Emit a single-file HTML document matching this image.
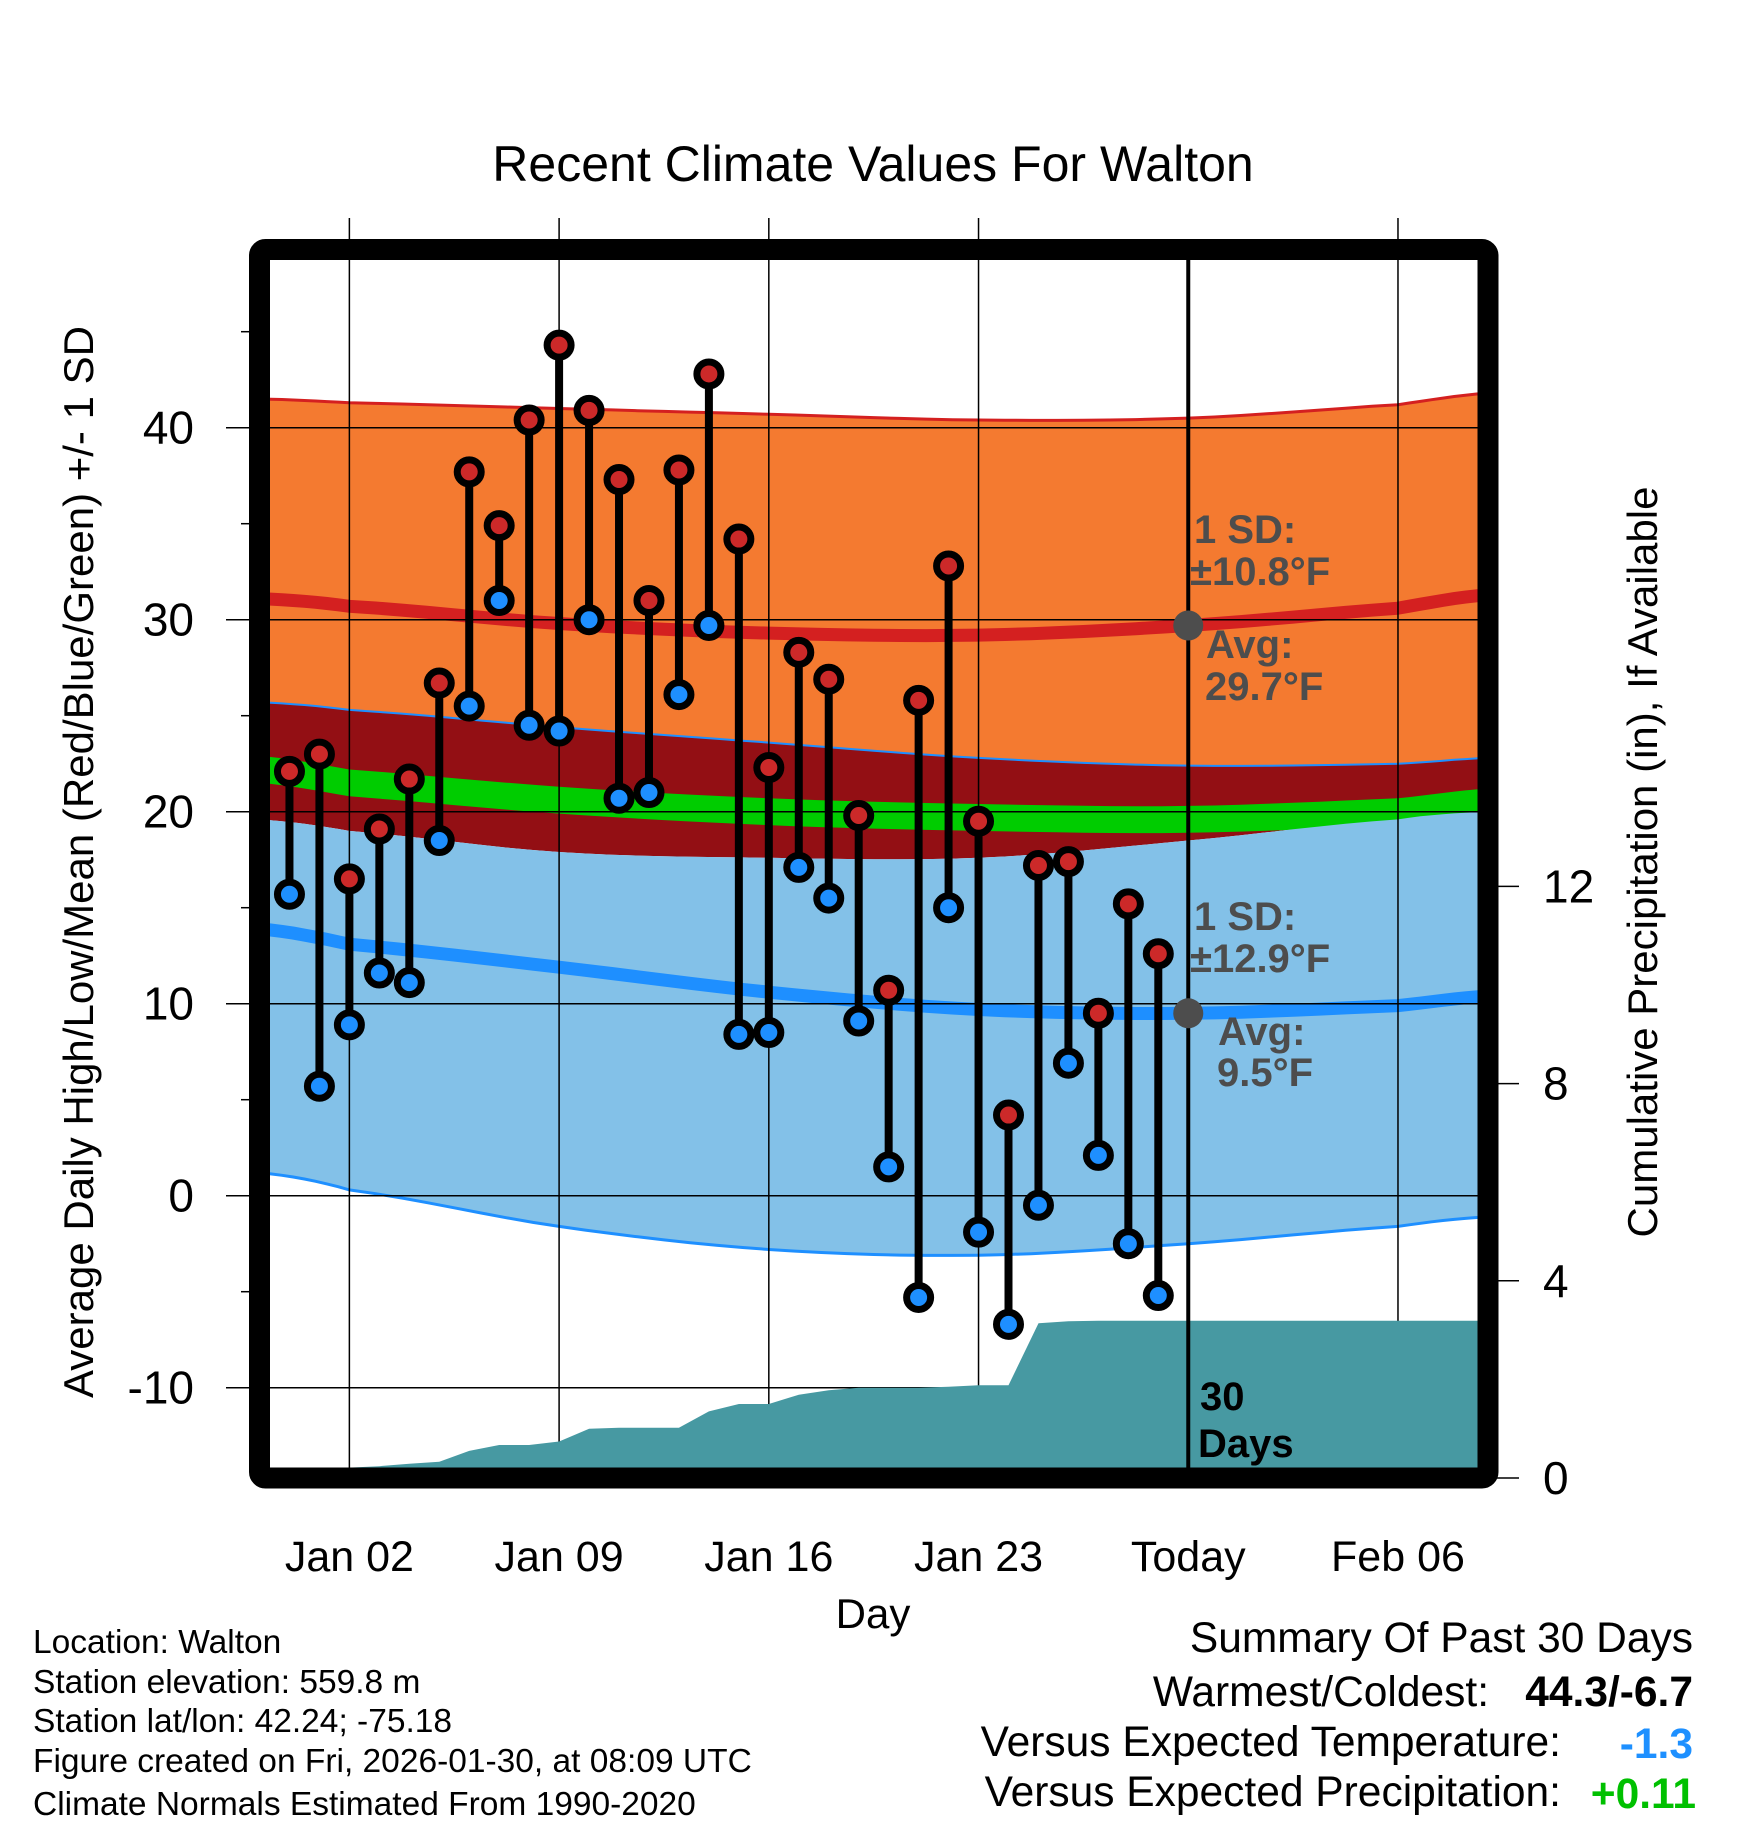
<!DOCTYPE html>
<html><head><meta charset="utf-8">
<style>
html,body{margin:0;padding:0;background:#fff;}
svg{display:block;font-family:"Liberation Sans",Arial,sans-serif;}
</style></head>
<body>
<svg id="chart" width="1748" height="1828" viewBox="0 0 1748 1828" xmlns="http://www.w3.org/2000/svg">
<defs><clipPath id="plotclip"><rect x="259.5" y="249.5" width="1228.5" height="1228.5"/></clipPath></defs>
<text x="873" y="181" font-size="50" text-anchor="middle">Recent Climate Values For Walton</text>
<g id="fills" clip-path="url(#plotclip)"></g>
<g id="grid"></g>
<g id="precip" clip-path="url(#plotclip)"></g>
<g id="marks"></g>
<g id="annot"></g>
<rect x="259.5" y="249.5" width="1228.5" height="1228.5" rx="6" fill="none" stroke="#000" stroke-width="21"/>
<g id="axes"></g>
<text x="873" y="1628" font-size="42" text-anchor="middle">Day</text>
<text transform="translate(93,862) rotate(-90)" font-size="42" text-anchor="middle">Average Daily High/Low/Mean (Red/Blue/Green) +/- 1 SD</text>
<text transform="translate(1657,862) rotate(-90)" font-size="42" text-anchor="middle">Cumulative Precipitation (in), If Available</text>
<g font-size="33.5">
<text x="33" y="1653">Location: Walton</text>
<text x="33" y="1693">Station elevation: 559.8 m</text>
<text x="33" y="1732">Station lat/lon: 42.24; -75.18</text>
<text x="33" y="1772">Figure created on Fri, 2026-01-30, at 08:09 UTC</text>
<text x="33" y="1815">Climate Normals Estimated From 1990-2020</text>
</g>
<g font-size="42.5" text-anchor="end">
<text x="1693" y="1652">Summary Of Past 30 Days</text>
<text x="1489" y="1706">Warmest/Coldest:</text>
<text x="1693" y="1706" font-weight="bold">44.3/-6.7</text>
<text x="1561" y="1756">Versus Expected Temperature:</text>
<text x="1693" y="1758" font-weight="bold" fill="#1e90ff">-1.3</text>
<text x="1561" y="1806">Versus Expected Precipitation:</text>
<text x="1696" y="1808" font-weight="bold" fill="#00c000">+0.11</text>
</g>
</svg>
<script>
// data
const days = [0,1,2,3,4,5,6,7,8,9,10,11,12,13,14,15,16,17,18,19,20,21,22,23,24,25,26,27,28,29];
const highs = [22.1,23.0,16.5,19.1,21.7,26.7,37.7,34.9,40.4,44.3,40.9,37.3,31.0,37.8,42.8,34.2,22.3,28.3,26.9,19.8,10.7,25.8,32.8,19.5,4.2,17.2,17.4,9.5,15.2,12.6];
const lows = [15.7,5.7,8.9,11.6,11.1,18.5,25.5,31.0,24.5,24.2,30.0,20.7,21.0,26.1,29.7,8.4,8.5,17.1,15.5,9.1,1.5,-5.3,15.0,-1.9,-6.7,-0.5,6.9,2.1,-2.5,-5.2];
const normDays = [-1,2,9,16,23,30,37,40];
const normHigh = [31.1,30.7,29.8,29.3,29.2,29.7,30.6,31.3];
const highPlus = [41.5,41.3,41.0,40.7,40.4,40.5,41.2,41.8];
const highMinus = [25.7,25.3,24.4,23.6,22.8,22.4,22.5,22.8];
const normMean = [22.2,21.5,20.6,20.0,19.7,19.6,20.0,20.5];
const normLow = [13.9,13.1,11.9,10.6,9.7,9.5,9.9,10.4];
const lowPlus = [19.6,19.0,17.9,17.6,17.6,18.5,19.6,20.0];
const lowMinus = [1.2,0.3,-1.6,-2.8,-3.1,-2.5,-1.6,-1.1];
const precipDays = [-1,0,1,2,3,4,5,6,7,8,9,10,11,12,13,14,15,16,17,18,19,20,21,22,23,24,25,26,27,40];
const precip = [0.19,0.19,0.2,0.21,0.24,0.29,0.33,0.55,0.67,0.67,0.74,1.0,1.02,1.02,1.02,1.35,1.5,1.5,1.69,1.78,1.83,1.83,1.83,1.85,1.88,1.88,3.14,3.18,3.19,3.19];
const xTickDays = [2,9,16,23,30,37];
const xTickLabels = ["Jan 02","Jan 09","Jan 16","Jan 23","Today","Feb 06"];
const yTicks = [-10,0,10,20,30,40];
const yMinor = [-5,5,15,25,35,45];
const y2Ticks = [0,4,8,12];
const todayDay = 30, todayHighAvg = 29.7, todayLowAvg = 9.5;

const NS="http://www.w3.org/2000/svg";
const X = d => 259.5 + (d+1)*29.96;
const Y = t => 1195.7 - 19.2*t;
const Y2 = p => 1478 - 49.3*p;
function mk(tag, attrs, parent){const e=document.createElementNS(NS,tag);for(const k in attrs)e.setAttribute(k,attrs[k]);parent.appendChild(e);return e;}
function smooth(arr){
  const pts=[];for(let i=0;i<arr.length-1;i++){const p0=arr[Math.max(i-1,0)],p1=arr[i],p2=arr[i+1],p3=arr[Math.min(i+2,arr.length-1)];
  const d0=normDays[i],d1=normDays[i+1];for(let s=0;s<8;s++){const t=s/8;const v=0.5*((2*p1)+(-p0+p2)*t+(2*p0-5*p1+4*p2-p3)*t*t+(-p0+3*p1-3*p2+p3)*t*t*t);pts.push([d0+(d1-d0)*t,v]);}}
  pts.push([normDays[normDays.length-1],arr[arr.length-1]]);return pts;}
function pstr(pts){return pts.map(p=>X(p[0]).toFixed(1)+','+Y(p[1]).toFixed(1)).join(' ');}
function band(top,bot){const a=smooth(top),b=smooth(bot).reverse();return pstr(a)+' '+pstr(b);}
const fills=document.getElementById('fills');
let e;
e=mk('polygon',{points:band(highMinus,lowPlus),fill:'#930f14'},fills);


const meanTop=normMean.map(v=>v+0.7), meanBot=normMean.map(v=>v-0.7);
e=mk('polygon',{points:band(meanTop,meanBot),fill:'#00cc00'},fills);


e=mk('polygon',{points:band(lowPlus,lowMinus),fill:'#83c1e8'},fills);


e=mk('polyline',{points:pstr(smooth(lowMinus)),fill:'none',stroke:'#1e8fff','stroke-width':3},fills);


e=mk('polygon',{points:band(highPlus,highMinus),fill:'#f47a30'},fills);


e=mk('polyline',{points:pstr(smooth(highPlus)),fill:'none',stroke:'#d42020','stroke-width':3},fills);


e=mk('polyline',{points:pstr(smooth(highMinus)),fill:'none',stroke:'#1e8fff','stroke-width':2},fills);


e=mk('polyline',{points:pstr(smooth(normHigh)),fill:'none',stroke:'#d42020','stroke-width':13},fills);


e=mk('polyline',{points:pstr(smooth(normLow)),fill:'none',stroke:'#1e8fff','stroke-width':13},fills);



// grid
const grid=document.getElementById('grid');
xTickDays.forEach((d,i)=>{ if(d===todayDay) return;
  e=mk('line',{x1:X(d),x2:X(d),y1:218,y2:1478,stroke:'#000','stroke-width':1.5},grid);
  
  
});
yTicks.forEach(t=>{
  e=mk('line',{x1:226,x2:1478,y1:Y(t),y2:Y(t),stroke:'#000','stroke-width':1.5},grid);
  
  
});
// precip
const pg=document.getElementById('precip');
const ppts=precipDays.map((d,i)=>X(d).toFixed(1)+','+Y2(precip[i]).toFixed(1));
ppts.push(X(40)+','+Y2(0)); ppts.push(X(-1)+','+Y2(0));
e=mk('polygon',{points:ppts.join(' '),fill:'#4799a2'},pg);


// today line
e=mk('line',{x1:X(todayDay),x2:X(todayDay),y1:249.5,y2:1478,stroke:'#000','stroke-width':4},grid.parentNode);


grid.parentNode.insertBefore(e,document.getElementById('marks'));

// marks
const mg=document.getElementById('marks');
days.forEach((d,i)=>{
  e=mk('line',{x1:X(d),x2:X(d),y1:Y(highs[i]),y2:Y(lows[i]),stroke:'#000','stroke-width':8},mg);
  
  
});
days.forEach((d,i)=>{
  e=mk('circle',{cx:X(d),cy:Y(highs[i]),r:12,fill:'#cc2929',stroke:'#000','stroke-width':7},mg);
  
  
  e=mk('circle',{cx:X(d),cy:Y(lows[i]),r:12,fill:'#1e8fff',stroke:'#000','stroke-width':7},mg);
  
  
});
// annotations
const ag=document.getElementById('annot');
e=mk('circle',{cx:X(todayDay),cy:Y(todayHighAvg),r:15,fill:'#4d4d4d'},ag);


e=mk('circle',{cx:X(todayDay),cy:Y(todayLowAvg),r:15,fill:'#4d4d4d'},ag);


const ann=[["1 SD:",1194,543,'#4d4d4d'],["±10.8°F",1190,585,'#4d4d4d'],["Avg:",1206,658,'#4d4d4d'],["29.7°F",1205,700,'#4d4d4d'],
["1 SD:",1194,930,'#4d4d4d'],["±12.9°F",1190,972,'#4d4d4d'],["Avg:",1218,1045,'#4d4d4d'],["9.5°F",1217,1086,'#4d4d4d'],
["30",1200,1410,'#000'],["Days",1198,1457,'#000']];
ann.forEach(a=>{
  e=mk('text',{x:a[1],y:a[2],'font-size':40,'font-weight':'bold',fill:a[3]},ag);
  
  
  e.textContent=a[0];
});
// axes
const ax=document.getElementById('axes');
xTickDays.forEach((d,i)=>{
  e=mk('text',{x:X(d),y:1571,'font-size':43,'text-anchor':'middle'},ax);
  
  
  e.textContent=xTickLabels[i];
});
yTicks.forEach(t=>{
  e=mk('text',{x:194,y:Y(t)+16,'font-size':46,'text-anchor':'end'},ax);
  
  
  e.textContent=String(t);
});
yMinor.forEach(t=>{
  e=mk('line',{x1:241,x2:250,y1:Y(t),y2:Y(t),stroke:'#000','stroke-width':1.5},ax);
  
  
});
y2Ticks.forEach(p=>{
  e=mk('line',{x1:1488,x2:1519,y1:Y2(p),y2:Y2(p),stroke:'#000','stroke-width':1.5},ax);
  
  
  e=mk('text',{x:1543,y:Y2(p)+16,'font-size':46},ax);
  
  
  e.textContent=String(p);
});
</script>
</body></html>
